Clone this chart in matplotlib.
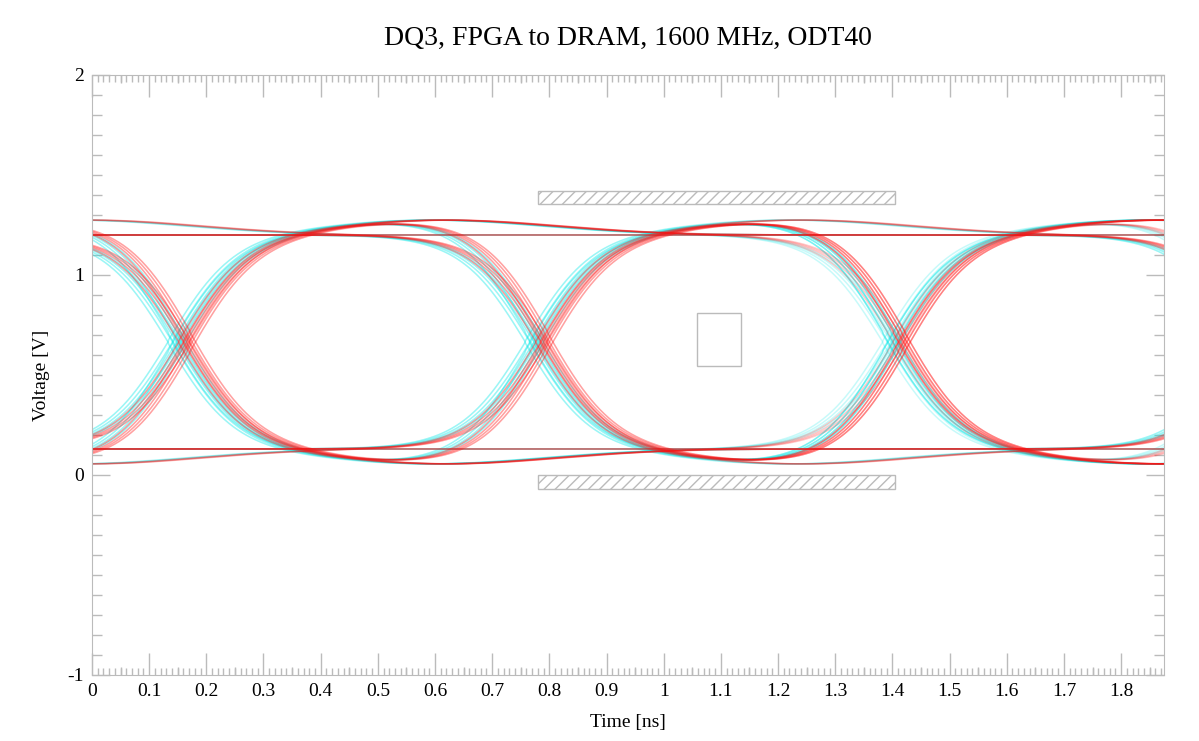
import numpy as np
import matplotlib
matplotlib.use("Agg")
import matplotlib.pyplot as plt
from matplotlib.patches import Rectangle
from matplotlib.ticker import MultipleLocator

plt.rcParams['font.family'] = ['Liberation Serif', 'DejaVu Serif']
plt.rcParams['axes.unicode_minus'] = False
plt.rcParams['hatch.color'] = '#bbbbbb'

title = "DQ3, FPGA to DRAM, 1600 MHz, ODT40"
xlabel = "Time [ns]"
ylabel = "Voltage [V]"
ui = 0.625
v_low, v_high = 0.13, 1.20
overshoot = 0.075
red_cross = 0.16
cyan_cross = 0.145
red_jitter = [-0.008, 0.0, 0.006, 0.012]
cyan_jitter = [-0.012, -0.004, 0.003, 0.010]
# bit patterns for bits k = -2 .. 3
patterns = [
    [0, 0, 0, 0, 0, 0], [1, 1, 1, 1, 1, 1],
    [0, 1, 0, 1, 0, 1], [1, 0, 1, 0, 1, 0],
    [0, 0, 1, 1, 0, 0], [1, 1, 0, 0, 1, 1],
    [0, 1, 1, 0, 0, 1], [1, 0, 0, 1, 1, 0],
    [1, 1, 1, 0, 1, 1], [0, 0, 0, 1, 0, 0],
    [0, 0, 1, 0, 1, 1], [1, 1, 0, 1, 0, 0],
    [1, 0, 1, 1, 1, 0], [0, 1, 0, 0, 0, 1],
]
mask_x = [0.78, 1.405]
mask_top = [1.355, 1.42]
mask_bot = [-0.07, 0.0]
box_x = [1.058, 1.136]
box_y = [0.545, 0.81]

def step(t):
    return 0.5 * (1 + np.tanh(t / 0.115)) + (overshoot / (v_high - v_low)) * np.exp(-((t - 0.45) / 0.28) ** 2) * (t > 0)

def trace(t, bits, cross):
    v = np.full_like(t, v_low if bits[0] == 0 else v_high)
    for k in range(1, len(bits)):
        d = bits[k] - bits[k - 1]
        if d != 0:
            tk = cross + (k - 2) * ui
            v = v + d * (v_high - v_low) * step(t - tk)
    return v

fig = plt.figure(figsize=(11.99, 7.41), dpi=100)
ax = fig.add_axes([0.0767, 0.0891, 0.8941, 0.8097])
t = np.linspace(0, 1.875, 1200)
for bits in patterns:
    for jt in cyan_jitter:
        ax.plot(t, trace(t, bits, cyan_cross + jt), color='#00e8e8', alpha=0.22, lw=1.1)
for bits in patterns:
    for jt in red_jitter:
        ax.plot(t, trace(t, bits, red_cross + jt), color='#ff1010', alpha=0.22, lw=1.1)

for yy in (mask_top, mask_bot):
    ax.add_patch(Rectangle((mask_x[0], yy[0]), mask_x[1] - mask_x[0], yy[1] - yy[0],
                           fill=False, edgecolor='#bbbbbb', hatch='///', lw=1))
ax.add_patch(Rectangle((box_x[0], box_y[0]), box_x[1] - box_x[0], box_y[1] - box_y[0],
                       fill=False, edgecolor='#bbbbbb', lw=1))

ax.set_xlim(0, 1.875)
ax.set_ylim(-1, 2)
ax.xaxis.set_minor_locator(MultipleLocator(0.01))
ax.yaxis.set_major_locator(MultipleLocator(1))
ax.yaxis.set_minor_locator(MultipleLocator(0.1))
ax.set_xticks(np.arange(0, 1.85, 0.1))
ax.set_xticklabels(["0"] + ["%g" % round(v, 1) for v in np.arange(0.1, 1.85, 0.1)])
ax.tick_params(which='both', direction='in', top=True, right=True, color='#bbbbbb',
               labelsize=14, width=1)
ax.tick_params(which='major', length=16, pad=6)
ax.tick_params(which='minor', length=5)
ax.tick_params(axis='y', which='major', length=13)
ax.tick_params(axis='y', which='minor', length=7)
# mid ticks at 0.05 steps
mids = np.arange(0.05, 1.875, 0.1)
xt = ax.get_xaxis_transform()
ax.vlines(mids, 0, 0.0135, transform=xt, color='#bbbbbb', lw=1, clip_on=False)
ax.vlines(mids, 1 - 0.0135, 1, transform=xt, color='#bbbbbb', lw=1, clip_on=False)
for s in ax.spines.values():
    s.set_color('#bbbbbb')
ax.set_xlabel(xlabel, fontsize=14, labelpad=10)
ax.set_ylabel(ylabel, fontsize=14, labelpad=12)
ax.set_title(title, fontsize=20, pad=22)
fig.savefig("out.png", dpi=100)
